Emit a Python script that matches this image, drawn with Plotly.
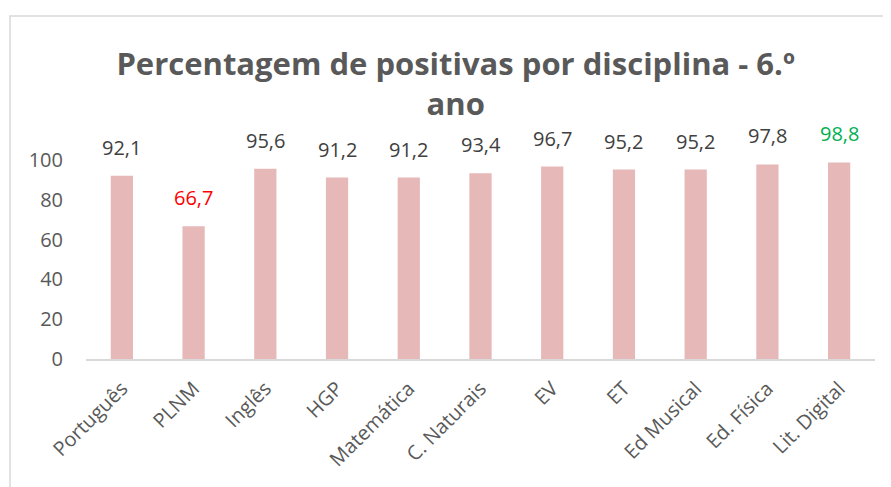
import plotly.graph_objects as go

categories = ["Português", "PLNM", "Inglês", "HGP", "Matemática", "C. Naturais",
              "EV", "ET", "Ed Musical", "Ed. Física", "Lit. Digital"]
values = [92.1, 66.7, 95.6, 91.2, 91.2, 93.4, 96.7, 95.2, 95.2, 97.8, 98.8]
label_colors = ["#404040", "#FF0000", "#404040", "#404040", "#404040", "#404040",
                "#404040", "#404040", "#404040", "#404040", "#00B050"]
y_ticks = [0, 20, 40, 60, 80, 100]
title_text = "Percentagem de positivas por disciplina - 6.º<br>ano"

FONT = "Open Sans, Lato, sans-serif"

# page has an 8px body margin, so the figure is drawn 8px smaller
W, H = 883, 479
L, R, T, B = 78, 16, 152, 128
PW = W - L - R
PH = H - T - B

fig = go.Figure()
fig.add_trace(go.Bar(
    x=categories, y=values,
    marker=dict(color="#E6B8B7", line=dict(width=0)),
    width=0.31,
    hoverinfo="skip",
))

annotations = []
for c, v, col in zip(categories, values, label_colors):
    annotations.append(dict(
        x=c, y=v, xref="x", yref="y",
        text=f"{v:.1f}".replace(".", ","),
        showarrow=False, yanchor="bottom", yshift=13,
        font=dict(family=FONT, size=20, color=col),
    ))

fig.update_layout(
    width=W, height=H,
    margin=dict(l=L, r=R, t=T, b=B, autoexpand=False),
    paper_bgcolor="white", plot_bgcolor="white",
    showlegend=False,
    title=dict(
        text=title_text, x=0.507, xanchor="center", y=0.86, yanchor="top",
        font=dict(family=FONT, size=31, color="#595959", weight="bold"),
    ),
    xaxis=dict(
        tickangle=-45, tickfont=dict(family=FONT, size=20, color="#595959"),
        showline=True, linecolor="#D9D9D9", linewidth=2,
        showgrid=False, ticks="", zeroline=False, automargin=False,
        ticklabelstandoff=8,
    ),
    yaxis=dict(
        range=[0, 100], tickvals=y_ticks,
        tickfont=dict(family=FONT, size=20, color="#595959"),
        showgrid=False, showline=False, zeroline=False, ticks="",
        ticklabelstandoff=22, automargin=False,
    ),
    annotations=annotations,
    shapes=[dict(
        type="rect", xref="paper", yref="paper",
        x0=(2 - L) / PW, x1=1.2, y0=-1.0, y1=(T + PH - 8) / PH,
        line=dict(color="#D9D9D9", width=1.5), fillcolor="rgba(0,0,0,0)",
        layer="below",
    )],
)

fig.write_html("out.html")
